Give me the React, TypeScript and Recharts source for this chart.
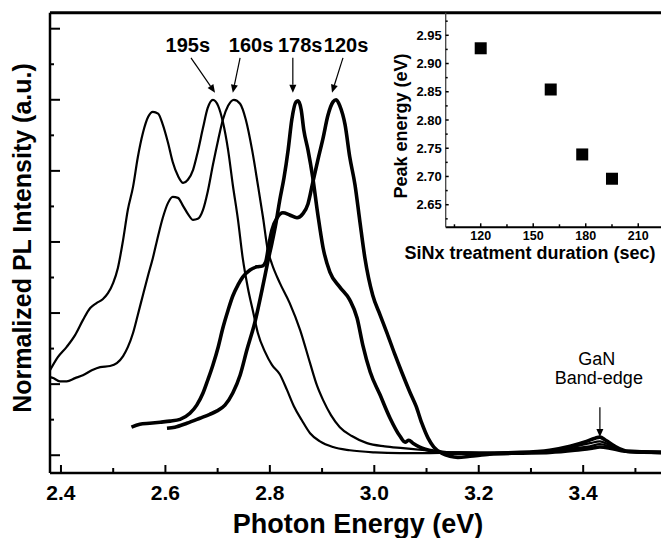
import React from 'react';
import {
  Line,
  LineChart,
  ReferenceDot,
  ReferenceLine,
  Scatter,
  ScatterChart,
  XAxis,
  YAxis,
} from 'recharts';

const FONT = '"Liberation Sans", Arial, Helvetica, sans-serif';
const NARROW = '"Liberation Sans Narrow", "Arial Narrow", "Liberation Sans", Arial, sans-serif';

// PL spectra: [photon energy (eV), normalized intensity]
const spec195s: [number, number][] = [
  [2.379, 0.239], [2.394, 0.276], [2.411, 0.305], [2.427, 0.338], [2.442, 0.38],
  [2.456, 0.414], [2.468, 0.428], [2.48, 0.439], [2.49, 0.456], [2.5, 0.485],
  [2.509, 0.527], [2.519, 0.606], [2.528, 0.69], [2.538, 0.755], [2.547, 0.837],
  [2.557, 0.907], [2.567, 0.952], [2.576, 0.966], [2.586, 0.961], [2.595, 0.93],
  [2.605, 0.879], [2.614, 0.825], [2.624, 0.786], [2.634, 0.766], [2.643, 0.775],
  [2.653, 0.803], [2.662, 0.854], [2.672, 0.921], [2.681, 0.977], [2.691, 1.0],
  [2.701, 0.983], [2.71, 0.938], [2.72, 0.859], [2.729, 0.761], [2.739, 0.662],
  [2.748, 0.555], [2.758, 0.47], [2.768, 0.403], [2.777, 0.344], [2.791, 0.29],
  [2.804, 0.254], [2.819, 0.228], [2.833, 0.183], [2.846, 0.138], [2.861, 0.099],
  [2.877, 0.062], [2.896, 0.039], [2.921, 0.023], [2.953, 0.014], [3.001, 0.008],
  [3.049, 0.006], [3.107, 0.006], [3.164, 0.008], [3.221, 0.006], [3.279, 0.008],
  [3.327, 0.011], [3.355, 0.017], [3.384, 0.025], [3.413, 0.034], [3.432, 0.039],
  [3.447, 0.031], [3.466, 0.017], [3.489, 0.008], [3.549, 0.006],
];

const spec160s: [number, number][] = [
  [2.379, 0.22], [2.385, 0.217], [2.398, 0.208], [2.411, 0.208], [2.427, 0.217],
  [2.442, 0.225], [2.459, 0.239], [2.475, 0.248], [2.494, 0.251], [2.507, 0.259],
  [2.519, 0.279], [2.528, 0.304], [2.538, 0.344], [2.547, 0.394], [2.557, 0.451],
  [2.567, 0.507], [2.576, 0.555], [2.586, 0.617], [2.595, 0.668], [2.605, 0.71],
  [2.614, 0.727], [2.624, 0.724], [2.634, 0.701], [2.643, 0.679], [2.653, 0.662],
  [2.662, 0.665], [2.672, 0.69], [2.681, 0.741], [2.691, 0.817], [2.701, 0.887],
  [2.71, 0.944], [2.72, 0.983], [2.731, 1.0], [2.743, 0.989], [2.754, 0.944],
  [2.766, 0.859], [2.777, 0.761], [2.787, 0.668], [2.796, 0.577], [2.804, 0.538],
  [2.819, 0.485], [2.838, 0.428], [2.858, 0.352], [2.877, 0.259], [2.89, 0.197],
  [2.902, 0.155], [2.917, 0.113], [2.934, 0.079], [2.957, 0.054], [2.986, 0.034],
  [3.02, 0.025], [3.055, 0.02], [3.097, 0.014], [3.145, 0.008], [3.202, 0.006],
  [3.279, 0.008], [3.336, 0.011], [3.384, 0.02], [3.413, 0.025], [3.432, 0.031],
  [3.451, 0.025], [3.474, 0.014], [3.509, 0.008], [3.549, 0.008],
];

const spec178s: [number, number][] = [
  [2.603, 0.076], [2.618, 0.079], [2.641, 0.09], [2.666, 0.104], [2.685, 0.115],
  [2.698, 0.124], [2.714, 0.141], [2.729, 0.175], [2.743, 0.225], [2.756, 0.296],
  [2.771, 0.372], [2.787, 0.479], [2.796, 0.544], [2.804, 0.597], [2.812, 0.656],
  [2.819, 0.718], [2.827, 0.78], [2.835, 0.859], [2.842, 0.944], [2.85, 0.994],
  [2.854, 0.997], [2.86, 0.972], [2.865, 0.915], [2.873, 0.859], [2.882, 0.783],
  [2.892, 0.676], [2.902, 0.583], [2.915, 0.515], [2.934, 0.473], [2.953, 0.437],
  [2.967, 0.386], [2.978, 0.31], [2.992, 0.235], [3.011, 0.17], [3.03, 0.105],
  [3.049, 0.054], [3.059, 0.037], [3.066, 0.042], [3.074, 0.034], [3.087, 0.023],
  [3.116, 0.011], [3.145, 0.006], [3.202, 0.006], [3.279, 0.008], [3.336, 0.014],
  [3.375, 0.025], [3.403, 0.037], [3.423, 0.048], [3.432, 0.051], [3.443, 0.042],
  [3.461, 0.025], [3.486, 0.011], [3.549, 0.008],
];

const spec120s: [number, number][] = [
  [2.535, 0.079], [2.551, 0.087], [2.57, 0.09], [2.59, 0.093], [2.609, 0.096],
  [2.628, 0.101], [2.647, 0.118], [2.66, 0.141], [2.672, 0.175], [2.681, 0.211],
  [2.691, 0.254], [2.701, 0.304], [2.71, 0.358], [2.72, 0.408], [2.729, 0.448],
  [2.739, 0.479], [2.748, 0.501], [2.762, 0.521], [2.775, 0.53], [2.785, 0.532],
  [2.792, 0.544], [2.798, 0.592], [2.804, 0.634], [2.814, 0.668], [2.825, 0.682],
  [2.838, 0.676], [2.852, 0.668], [2.863, 0.679], [2.873, 0.707], [2.882, 0.766],
  [2.892, 0.831], [2.902, 0.893], [2.911, 0.955], [2.921, 0.994], [2.927, 1.0],
  [2.934, 0.983], [2.944, 0.93], [2.953, 0.839], [2.963, 0.761], [2.972, 0.662],
  [2.982, 0.555], [2.997, 0.45], [3.011, 0.395], [3.024, 0.345], [3.039, 0.285],
  [3.053, 0.232], [3.068, 0.178], [3.08, 0.138], [3.091, 0.09], [3.103, 0.048],
  [3.114, 0.023], [3.129, 0.006], [3.145, -0.003], [3.16, -0.006], [3.183, -0.003],
  [3.221, 0.003], [3.279, 0.006], [3.336, 0.008], [3.384, 0.014], [3.417, 0.02],
  [3.432, 0.023], [3.451, 0.02], [3.48, 0.011], [3.549, 0.008],
];

const spectra = [
  { name: '195s', rows: spec195s, width: 2.2 },
  { name: '160s', rows: spec160s, width: 2.2 },
  { name: '178s', rows: spec178s, width: 3.6 },
  { name: '120s', rows: spec120s, width: 3.6 },
];

const xTicks = [2.4, 2.5, 2.6, 2.7, 2.8, 2.9, 3.0, 3.1, 3.2, 3.3, 3.4, 3.5];
const yTicks = [0, 0.1, 0.2, 0.3, 0.4, 0.5, 0.6, 0.7, 0.8, 0.9, 1.0, 1.1, 1.2];

// peak labels with arrows (energy / intensity coordinates)
const peakNames = ['195s', '160s', '178s', '120s'];
const peakLabelE = [2.643, 2.764, 2.858, 2.946];
const peakArrowFromE = [2.649, 2.743, 2.844, 2.94];
const peakArrowToE = [2.695, 2.729, 2.844, 2.919];
const peakLabelY = 1.135;
const peakArrowFromY = 1.118;
const peakArrowToY = 1.02;

// inset: peak energy vs SiNx treatment time
const treatSec = [120, 160, 178, 195];
const peakEnergy = [2.927, 2.854, 2.739, 2.696];
const insetXTicks = [105, 120, 135, 150, 165, 180, 195, 210];
const insetYTicks = [2.625, 2.65, 2.675, 2.7, 2.725, 2.75, 2.775, 2.8, 2.825, 2.85, 2.875, 2.9, 2.925, 2.95, 2.975];

const MainXTick = (props: any) => {
  const { x, y, payload } = props;
  const major = Math.round(payload.value * 10) % 2 === 0;
  return (
    <g>
      <line x1={x} x2={x} y1={y} y2={y - (major ? 8 : 5)} stroke="#000" strokeWidth={2} />
      {major && (
        <text x={x} y={y + 27} textAnchor="middle" fontFamily={FONT} fontWeight="bold" fontSize={21} fill="#000">
          {payload.value.toFixed(1)}
        </text>
      )}
    </g>
  );
};

const MainYTick = (props: any) => {
  const { x, y, payload } = props;
  const major = Math.round(payload.value * 10) % 2 === 0;
  return <line x1={x} x2={x + (major ? 10 : 4)} y1={y} y2={y} stroke="#000" strokeWidth={2} />;
};

const InsetXTick = (props: any) => {
  const { x, y, payload } = props;
  const major = payload.value % 30 === 0;
  return (
    <g>
      <line x1={x} x2={x} y1={y} y2={y - (major ? 4 : 3)} stroke="#000" strokeWidth={1.5} />
      {major && (
        <text x={x} y={y + 13} textAnchor="middle" fontFamily={FONT} fontWeight="bold" fontSize={12.5} fill="#000">
          {payload.value}
        </text>
      )}
    </g>
  );
};

const InsetYTick = (props: any) => {
  const { x, y, payload } = props;
  const major = Math.round(payload.value * 1000) % 50 === 0;
  return (
    <g>
      <line x1={x} x2={x + (major ? 3 : 2)} y1={y} y2={y} stroke="#000" strokeWidth={1.5} />
      {major && (
        <text x={x - 4} y={y + 4.5} textAnchor="end" fontFamily={FONT} fontWeight="bold" fontSize={13} fill="#000">
          {payload.value.toFixed(2)}
        </text>
      )}
    </g>
  );
};

const Arrow = (props: any) => {
  const { x1, y1, x2, y2 } = props;
  if (x1 == null || y1 == null) return null;
  const ang = Math.atan2(y2 - y1, x2 - x1);
  const len = 8;
  const half = 3.5;
  const bx = x2 - len * Math.cos(ang);
  const by = y2 - len * Math.sin(ang);
  const px = -Math.sin(ang) * half;
  const py = Math.cos(ang) * half;
  return (
    <g>
      <line x1={x1} y1={y1} x2={bx} y2={by} stroke="#000" strokeWidth={1.2} />
      <polygon points={`${x2},${y2} ${bx + px},${by + py} ${bx - px},${by - py}`} fill="#000" />
    </g>
  );
};

const textDot = (label: string, family: string, size: number, weight: string) => (props: any) => (
  <text x={props.cx} y={props.cy} textAnchor="middle" fontFamily={family} fontSize={size} fontWeight={weight} fill="#000">
    {label}
  </text>
);

const Square = (props: any) => <rect x={props.cx - 6} y={props.cy - 6} width={12} height={12} fill="#000" />;

export default function App() {
  const insetData = treatSec.map((t, i) => ({ t, ev: peakEnergy[i] }));
  return (
    <div style={{ position: 'absolute', left: 0, top: 0, width: 661, height: 538, background: '#fff', overflow: 'hidden' }}>
      <LineChart width={661} height={538} margin={{ top: 0, right: 0, bottom: 0, left: 0 }}>
        <XAxis
          type="number"
          dataKey="e"
          domain={[2.379, 3.549]}
          allowDataOverflow
          ticks={xTicks}
          interval={0}
          height={65}
          tickSize={0}
          tickMargin={0}
          tick={<MainXTick />}
          axisLine={{ stroke: '#000', strokeWidth: 2.5 }}
        />
        <XAxis
          xAxisId="top"
          orientation="top"
          type="number"
          domain={[2.379, 3.549]}
          height={12.7}
          tick={false}
          tickLine={false}
          axisLine={{ stroke: '#000', strokeWidth: 3 }}
        />
        <YAxis
          type="number"
          domain={[-0.05, 1.245]}
          allowDataOverflow
          ticks={yTicks}
          interval={0}
          width={50}
          tickSize={0}
          tickMargin={0}
          tick={<MainYTick />}
          axisLine={{ stroke: '#000', strokeWidth: 2.5 }}
        />
        {spectra.map((s) => (
          <Line
            key={s.name}
            data={s.rows.map(([e, i]) => ({ e, i }))}
            dataKey="i"
            type="monotone"
            stroke="#000"
            strokeWidth={s.width}
            dot={false}
            activeDot={false}
            isAnimationActive={false}
          />
        ))}
        {peakNames.map((n, i) => (
          <ReferenceLine
            key={'a' + n}
            segment={[
              { x: peakArrowFromE[i], y: peakArrowFromY },
              { x: peakArrowToE[i], y: peakArrowToY },
            ]}
            ifOverflow="visible"
            shape={<Arrow />}
          />
        ))}
        {peakNames.map((n, i) => (
          <ReferenceDot
            key={'l' + n}
            x={peakLabelE[i]}
            y={peakLabelY}
            ifOverflow="visible"
            shape={textDot(n, NARROW, 20, 'bold')}
          />
        ))}
        <ReferenceLine
          segment={[
            { x: 3.432, y: 0.135 },
            { x: 3.432, y: 0.051 },
          ]}
          ifOverflow="visible"
          shape={<Arrow />}
        />
        <ReferenceDot x={3.426} y={0.254} ifOverflow="visible" shape={textDot('GaN', FONT, 18, 'normal')} />
        <ReferenceDot x={3.43} y={0.2} ifOverflow="visible" shape={textDot('Band-edge', FONT, 18, 'normal')} />
      </LineChart>

      <div style={{ position: 'absolute', left: 380, top: 0 }}>
        <ScatterChart width={281} height={270} margin={{ top: 12.7, right: 0, bottom: 0, left: 0 }}>
          <XAxis
            type="number"
            dataKey="t"
            domain={[100, 223]}
            allowDataOverflow
            ticks={insetXTicks}
            interval={0}
            height={42.7}
            tickSize={0}
            tickMargin={0}
            tick={<InsetXTick />}
            axisLine={{ stroke: '#000', strokeWidth: 2 }}
          />
          <YAxis
            type="number"
            dataKey="ev"
            domain={[2.61, 2.99]}
            allowDataOverflow
            ticks={insetYTicks}
            interval={0}
            width={65.7}
            tickSize={0}
            tickMargin={0}
            tick={<InsetYTick />}
            axisLine={{ stroke: '#444', strokeWidth: 1.3 }}
          />
          <Scatter data={insetData} shape={<Square />} isAnimationActive={false} />
        </ScatterChart>
      </div>

      <svg width={661} height={538} style={{ position: 'absolute', left: 0, top: 0, pointerEvents: 'none' }}>
        <text x={358} y={533} textAnchor="middle" fontFamily={FONT} fontWeight="bold" fontSize={27} fill="#000">
          Photon Energy (eV)
        </text>
        <text
          transform="translate(31,238) rotate(-90)"
          textAnchor="middle"
          fontFamily={FONT}
          fontWeight="bold"
          fontSize={25}
          fill="#000"
        >
          Normalized PL Intensity (a.u.)
        </text>
        <text x={530} y={259} textAnchor="middle" fontFamily={FONT} fontWeight="bold" fontSize={18} fill="#000">
          SiNx treatment duration (sec)
        </text>
        <text
          transform="translate(407,126) rotate(-90)"
          textAnchor="middle"
          fontFamily={FONT}
          fontWeight="bold"
          fontSize={18}
          fill="#000"
        >
          Peak energy (eV)
        </text>
      </svg>
    </div>
  );
}
